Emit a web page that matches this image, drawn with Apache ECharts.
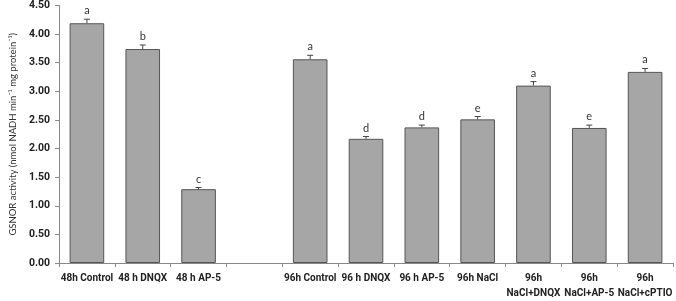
<!DOCTYPE html>
<html lang="en">
<head>
<meta charset="UTF-8">
<title>GSNOR activity</title>
<script src="https://cdn.jsdelivr.net/npm/echarts@6/dist/echarts.min.js"></script>
<style>
  html, body { margin: 0; padding: 0; background: #fff; }
</style>
</head>
<body>
<div id="main" style="width: 676px;height:301px;"></div>
<script type="text/javascript">
// categories (index 3 is the empty gap between the 48 h and 96 h groups)
var categories = ['48h Control', '48 h DNQX', '48 h AP-5', '',
  '96h Control', '96 h DNQX', '96 h AP-5', '96h NaCl',
  '96h\nNaCl+DNQX', '96h\nNaCl+AP-5', '96h\nNaCl+cPTIO'];
// mean values
var values = [4.19, 3.74, 1.29, null, 3.56, 2.17, 2.37, 2.51, 3.10, 2.36, 3.34];
// standard errors (upper part only visible)
var errors = [0.07, 0.07, 0.03, null, 0.07, 0.04, 0.04, 0.05, 0.07, 0.05, 0.06];
// significance letters
var letters = ['a', 'b', 'c', '', 'a', 'd', 'd', 'e', 'a', 'e', 'a'];

var myChart = echarts.init(document.getElementById('main'));

var errData = [];
for (var i = 0; i < values.length; i++) {
  if (values[i] == null) continue;
  errData.push([i, values[i], values[i] + errors[i], letters[i]]);
}

var option = {
  animation: false,
  grid: { left: 50, right: 3, top: 5, bottom: 35 },
  xAxis: {
    type: 'category',
    data: categories,
    axisLine: { lineStyle: { color: '#888' } },
    axisTick: { show: true, interval: 0, length: 4, lineStyle: { color: '#888' } },
    axisLabel: {
      interval: 0,
      color: '#222',
      fontFamily: 'Roboto',
      fontWeight: 'bold',
      fontSize: 10,
      lineHeight: 15,
      margin: 8
    }
  },
  yAxis: {
    type: 'value',
    min: 0,
    max: 4.5,
    interval: 0.5,
    name: 'GSNOR activity (nmol NADH min\u207B\u00B9 mg protein\u207B\u00B9)',
    nameLocation: 'middle',
    nameGap: 41,
    nameTextStyle: { fontFamily: 'Lato', fontSize: 9.5, color: '#333' },
    axisLine: { show: true, lineStyle: { color: '#888' } },
    axisTick: { show: true, length: 4, lineStyle: { color: '#888' } },
    splitLine: { show: false },
    axisLabel: {
      color: '#222',
      fontFamily: 'Roboto',
      fontWeight: 'bold',
      fontSize: 10.5,
      margin: 9,
      formatter: function (v) { return v.toFixed(2); }
    }
  },
  series: [
    {
      type: 'bar',
      data: values.map(function (v) { return v == null ? '-' : v; }),
      barWidth: '62%',
      itemStyle: { color: '#a6a6a6', borderColor: '#555', borderWidth: 1 }
    },
    {
      type: 'custom',
      data: errData,
      z: 5,
      renderItem: function (params, api) {
        var base = api.coord([api.value(0), api.value(1)]);
        var top = api.coord([api.value(0), api.value(2)]);
        var x = base[0];
        return {
          type: 'group',
          children: [
            { type: 'line', shape: { x1: x, y1: base[1], x2: x, y2: top[1] },
              style: { stroke: '#444', lineWidth: 1 } },
            { type: 'line', shape: { x1: x - 3, y1: top[1], x2: x + 3, y2: top[1] },
              style: { stroke: '#444', lineWidth: 1 } },
            { type: 'text', x: x, y: top[1] - 3,
              style: { text: api.value(3), textAlign: 'center', textVerticalAlign: 'bottom',
                fontFamily: 'Lato', fontSize: 11, fill: '#333' } }
          ]
        };
      }
    }
  ]
};

myChart.setOption(option);
</script>
</body>
</html>
